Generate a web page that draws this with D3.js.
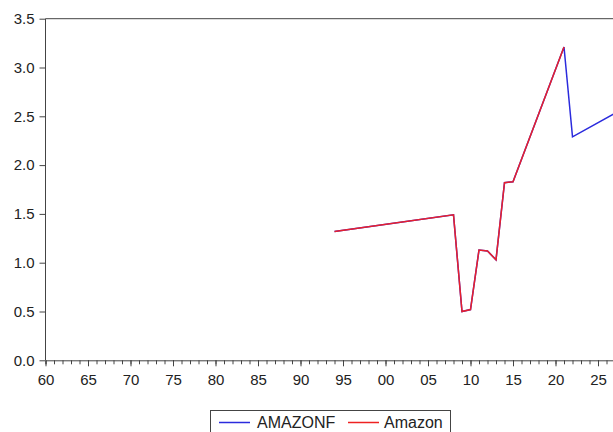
<!DOCTYPE html>
<html>
<head>
<meta charset="utf-8">
<script src="https://cdn.jsdelivr.net/npm/d3@7"></script>
<style>
  html, body { margin: 0; padding: 0; background: #fff; }
  svg { display: block; font-family: "Liberation Sans", Arial, sans-serif; }
</style>
</head>
<body>
<svg id="chart" width="613" height="432"></svg>
<script>
// Observations (year, value)
const amazonYears  = [1994, 2008, 2009, 2010, 2011, 2012, 2013, 2014, 2015, 2021];
const amazonValues = [1.32, 1.49, 0.50, 0.52, 1.13, 1.12, 1.03, 1.82, 1.83, 3.21];

// Fitted/forecast series: same history plus the projection
const amazonfYears  = [1994, 2008, 2009, 2010, 2011, 2012, 2013, 2014, 2015, 2021, 2022, 2027];
const amazonfValues = [1.32, 1.49, 0.50, 0.52, 1.13, 1.12, 1.03, 1.82, 1.83, 3.21, 2.29, 2.53];

const yTicks = [0.0, 0.5, 1.0, 1.5, 2.0, 2.5, 3.0, 3.5];
const xMajorTicks = [1960, 1965, 1970, 1975, 1980, 1985, 1990, 1995, 2000, 2005, 2010, 2015, 2020, 2025];
const seriesNames = ["AMAZONF", "Amazon"];
const seriesColors = ["#2b2bdd", "#e8202c"];

const svg = d3.select("#chart");
const plotLeft = 45.5, plotRight = 615, plotTop = 18.7, plotBottom = 360.3;

const x = d3.scaleLinear().domain([1960, 2027]).range([plotLeft, plotRight]);
const y = d3.scaleLinear().domain([0, 3.5]).range([plotBottom, plotTop]);

const axisColor = "#444";

// Frame: top and left edges
svg.append("path")
  .attr("d", `M${plotLeft},${plotBottom} V${plotTop} H${plotRight}`)
  .attr("fill", "none").attr("stroke", axisColor).attr("stroke-width", 1);

// Y axis
const yAxis = d3.axisLeft(y).tickValues(yTicks).tickFormat(d3.format(".1f")).tickSize(6).tickPadding(5);
const gy = svg.append("g").attr("transform", `translate(${plotLeft},0)`).call(yAxis);
gy.select(".domain").remove();
gy.selectAll(".tick line").attr("stroke", axisColor);
gy.selectAll(".tick text").attr("fill", "#222").style("font-size", "15px");

// X axis: minor ticks every year, labelled every five
const minorYears = d3.range(1960, 2028);
const gxMinor = svg.append("g").attr("transform", `translate(0,${plotBottom})`)
  .call(d3.axisBottom(x).tickValues(minorYears).tickSize(4).tickFormat(""));
gxMinor.select(".domain").attr("stroke", axisColor);
gxMinor.selectAll(".tick line").attr("stroke", axisColor);

const gx = svg.append("g").attr("transform", `translate(0,${plotBottom})`)
  .call(d3.axisBottom(x).tickValues(xMajorTicks).tickSize(6).tickPadding(8)
    .tickFormat(d => d3.format("02d")(d % 100)));
gx.select(".domain").remove();
gx.selectAll(".tick line").attr("stroke", axisColor);
gx.selectAll(".tick text").attr("fill", "#222").style("font-size", "15px");

// Lines
svg.append("clipPath").attr("id", "plotClip")
  .append("rect").attr("x", plotLeft).attr("y", plotTop)
  .attr("width", plotRight - plotLeft).attr("height", plotBottom - plotTop);

const line = d3.line().x(d => x(d[0])).y(d => y(d[1]));
const fData = amazonfYears.map((yr, i) => [yr, amazonfValues[i]]);
const aData = amazonYears.map((yr, i) => [yr, amazonValues[i]]);

const plot = svg.append("g").attr("clip-path", "url(#plotClip)");
plot.append("path").datum(fData).attr("d", line)
  .attr("fill", "none").attr("stroke", seriesColors[0]).attr("stroke-width", 1.5);
plot.append("path").datum(aData).attr("d", line)
  .attr("fill", "none").attr("stroke", seriesColors[1]).attr("stroke-width", 1.5);

// Legend
const legend = svg.append("g");
legend.append("rect").attr("x", 210.5).attr("y", 410.5).attr("width", 240).attr("height", 30)
  .attr("fill", "#fff").attr("stroke", axisColor).attr("stroke-width", 1);
const legendItems = [
  { name: seriesNames[0], color: seriesColors[0], x0: 219, tx: 257 },
  { name: seriesNames[1], color: "#ee2222", x0: 348, tx: 384 }
];
legendItems.forEach(it => {
  legend.append("line").attr("x1", it.x0).attr("x2", it.x0 + 31).attr("y1", 422.5).attr("y2", 422.5)
    .attr("stroke", it.color).attr("stroke-width", 1.5);
  legend.append("text").attr("x", it.tx).attr("y", 428).attr("fill", "#222")
    .style("font-size", "16px").text(it.name);
});
</script>
</body>
</html>
